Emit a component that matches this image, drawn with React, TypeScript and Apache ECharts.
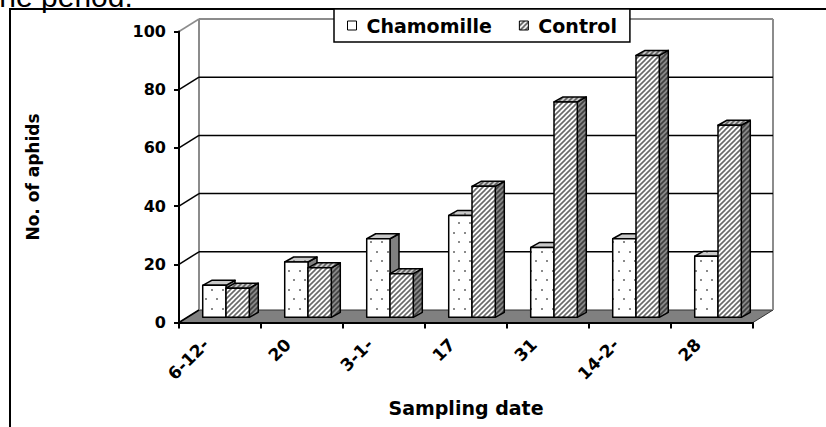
import React, { useEffect, useRef } from "react";
import * as echarts from "echarts";

const categories = ["6-12-", "20", "3-1-", "17", "31", "14-2-", "28"];
const chamomille = [11, 19, 27, 35, 24, 27, 21];
const control = [10, 17, 15, 45, 74, 90, 66];
const yTicks = [0, 20, 40, 60, 80, 100];
const seriesNames = ["Chamomille", "Control"];

const FONT = "DejaVu Sans";
const DX3 = 20;
const DY3 = -12.5;
const PAIR_SHIFT = 6;
const OY = -5.2;
const BDX = 9;
const BDY = -5;
const BAR_FRAC = 0.284;

function makePattern(w: number, h: number, draw: (ctx: CanvasRenderingContext2D) => void) {
  const c = document.createElement("canvas");
  c.width = w;
  c.height = h;
  const ctx = c.getContext("2d") as CanvasRenderingContext2D;
  draw(ctx);
  return { image: c, repeat: "repeat", imageWidth: w, imageHeight: h } as any;
}

function dots(bg: string, fg: string) {
  return makePattern(11, 19, (ctx) => {
    ctx.fillStyle = bg;
    ctx.fillRect(0, 0, 11, 19);
    ctx.fillStyle = fg;
    ctx.fillRect(2, 4, 2, 2);
    ctx.fillRect(7, 13, 2, 2);
  });
}

function hatch(bg: string, fg: string) {
  const s = 5;
  return makePattern(s, s, (ctx) => {
    ctx.fillStyle = bg;
    ctx.fillRect(0, 0, s, s);
    ctx.strokeStyle = fg;
    ctx.lineWidth = 1.6;
    for (const k of [-s, 0, s]) {
      ctx.beginPath();
      ctx.moveTo(k - 1, s + 1);
      ctx.lineTo(k + s + 1, -1);
      ctx.stroke();
    }
  });
}

export default function App() {
  const ref = useRef<HTMLDivElement>(null);

  useEffect(() => {
    if (!ref.current) return;
    const chart = echarts.init(ref.current, null, { renderer: "svg" });

    const faces = [
      { front: dots("#ffffff", "#8a8a8a"), top: dots("#c8c8c8", "#8a8a8a"), side: "#808080" },
      { front: hatch("#ffffff", "#6a6a6a"), top: hatch("#c8c8c8", "#606060"), side: hatch("#8a8a8a", "#404040") },
    ];

    const renderWall = (params: any, api: any) => {
      const v = api.value(1);
      const p = api.coord([0, v]);
      const band = api.size([1, 0])[0];
      const left = p[0] - band / 2;
      const right = left + band * categories.length;
      const y = p[1];
      const children: any[] = [];
      const gray = "#8c8c8c";
      if (params.dataIndex === 0) {
        const top = api.coord([0, yTicks[yTicks.length - 1]])[1];
        children.push({
          type: "polygon",
          shape: { points: [[left, y], [right, y], [right + DX3, y + DY3], [left + DX3, y + DY3]] },
          style: { fill: "#808080", stroke: "#333", lineWidth: 1 },
        });
        children.push({
          type: "line",
          shape: { x1: left + DX3, y1: top + DY3, x2: left + DX3, y2: y + DY3 },
          style: { stroke: gray, lineWidth: 2 },
        });
        children.push({
          type: "line",
          shape: { x1: right + DX3, y1: top + DY3, x2: right + DX3, y2: y + DY3 },
          style: { stroke: gray, lineWidth: 2 },
        });
      }
      const isTop = v === yTicks[yTicks.length - 1];
      const col = isTop ? gray : "#000";
      if (v !== 0) {
        children.push({
          type: "line",
          shape: { x1: left + DX3, y1: y + DY3, x2: right + DX3, y2: y + DY3 },
          style: { stroke: col, lineWidth: isTop ? 2 : 1.5 },
        });
      }
      children.push({
        type: "line",
        shape: { x1: left, y1: y, x2: left + DX3, y2: y + DY3 },
        style: { stroke: col, lineWidth: 1.5 },
      });
      return { type: "group", children };
    };

    const makeBarRenderer = (s: number) => (params: any, api: any) => {
      const idx = api.value(0);
      const v = api.value(1);
      const topP = api.coord([idx, v]);
      const baseP = api.coord([idx, 0]);
      const band = api.size([1, 0])[0];
      const barW = band * BAR_FRAC;
      const x0 = baseP[0] + PAIR_SHIFT - barW + s * barW;
      const yb = baseP[1] + OY;
      const yt = topP[1] + OY;
      const f = faces[s];
      const stroke = { stroke: "#000", lineWidth: 1.5, lineJoin: "round" };
      return {
        type: "group",
        children: [
          {
            type: "polygon",
            shape: { points: [[x0 + barW, yt], [x0 + barW + BDX, yt + BDY], [x0 + barW + BDX, yb + BDY], [x0 + barW, yb]] },
            style: { fill: f.side, ...stroke },
          },
          {
            type: "polygon",
            shape: { points: [[x0, yt], [x0 + BDX, yt + BDY], [x0 + barW + BDX, yt + BDY], [x0 + barW, yt]] },
            style: { fill: f.top, ...stroke },
          },
          {
            type: "rect",
            shape: { x: x0, y: yt, width: barW, height: yb - yt },
            style: { fill: f.front, ...stroke },
          },
        ],
      };
    };

    const seriesData = [chamomille, control];

    chart.setOption({
      animation: false,
      backgroundColor: "#ffffff",
      textStyle: { fontFamily: FONT },
      grid: { left: 179, top: 31.5, width: 574, height: 291, containLabel: false },
      legend: {
        left: 334,
        top: 9,
        padding: [7, 13, 7, 13],
        itemWidth: 9,
        itemHeight: 9,
        itemGap: 27,
        backgroundColor: "#ffffff",
        borderColor: "#000",
        borderWidth: 1.5,
        borderRadius: 0,
        textStyle: { fontFamily: FONT, fontWeight: "bold", fontSize: 19, color: "#000", lineHeight: 19, padding: [0, 0, 0, 5] },
        data: [
          { name: seriesNames[0], icon: "rect", itemStyle: { color: "#ffffff", borderColor: "#000", borderWidth: 1 } },
          { name: seriesNames[1], icon: "rect", itemStyle: { color: hatch("#ffffff", "#555"), borderColor: "#000", borderWidth: 1 } },
        ],
      },
      xAxis: {
        type: "category",
        data: categories,
        boundaryGap: true,
        name: "Sampling date",
        nameLocation: "middle",
        nameGap: 76,
        nameTextStyle: { fontFamily: FONT, fontWeight: "bold", fontSize: 19, color: "#000" },
        axisLine: { show: true, lineStyle: { color: "#000", width: 2 } },
        axisTick: { show: true, interval: 0, length: 6, lineStyle: { color: "#000", width: 2 } },
        axisLabel: {
          interval: 0,
          rotate: 45,
          margin: 5,
          padding: [0, 20, 0, 0],
          fontFamily: FONT,
          fontWeight: "bold",
          fontSize: 17,
          color: "#000",
        },
        splitLine: { show: false },
      },
      yAxis: {
        type: "value",
        min: 0,
        max: 100,
        interval: 20,
        name: "No. of aphids",
        nameLocation: "middle",
        nameRotate: 90,
        nameGap: 138,
        nameTextStyle: { fontFamily: FONT, fontWeight: "bold", fontSize: 17, color: "#000" },
        axisLine: { show: true, lineStyle: { color: "#000", width: 2 } },
        axisTick: { show: true, length: 5, lineStyle: { color: "#000", width: 2 } },
        axisLabel: { margin: 13, fontFamily: FONT, fontWeight: "bold", fontSize: 16, color: "#000" },
        splitLine: { show: false },
      },
      graphic: [
        {
          type: "rect",
          shape: { x: 10, y: 9, width: 900, height: 500 },
          style: { fill: "none", stroke: "#000", lineWidth: 2 },
          z: -10,
        },
        {
          type: "text",
          x: -9,
          y: -19,
          style: { text: "the period.", fontFamily: "Liberation Sans", fontSize: 30, fill: "#000", textVerticalAlign: "top" },
          z: -10,
        },
      ],
      series: [
        {
          type: "custom",
          name: "walls",
          z: -1,
          silent: true,
          renderItem: renderWall,
          data: yTicks.map((v) => [0, v]),
          encode: { x: 0, y: 1 },
        },
        ...seriesNames.map((n, s) => ({
          type: "custom",
          name: n,
          z: 2 + s,
          renderItem: makeBarRenderer(s),
          itemStyle: { color: s === 0 ? "#ffffff" : "#888" },
          data: seriesData[s].map((v, i) => [i, v]),
          encode: { x: 0, y: 1 },
        })),
      ],
    });

    return () => {
      chart.dispose();
    };
  }, []);

  return (
    <div
      ref={ref}
      style={{ position: "fixed", left: 0, top: 0, width: 826, height: 427, background: "#fff" }}
    />
  );
}
